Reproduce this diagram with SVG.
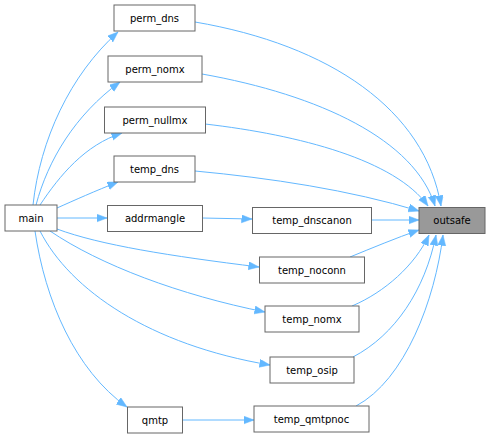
<svg xmlns="http://www.w3.org/2000/svg" width="490" height="439" viewBox="0 0 490 439">
<style>
.node rect{fill:#ffffff;stroke:#666666;stroke-width:1}
.node.hl rect{fill:#999999}
.node text{font-family:"DejaVu Sans","Liberation Sans",sans-serif;font-size:10px;fill:#000000;text-anchor:middle}
.edge{fill:none;stroke:#63b8ff;stroke-width:1;marker-end:url(#arr)}
</style>
<defs>
<marker id="arr" markerUnits="userSpaceOnUse" markerWidth="12" markerHeight="9" refX="10.5" refY="4" orient="auto">
<path d="M0,0 L10.5,4 L0,8 z" fill="#63b8ff" stroke="#63b8ff" stroke-width="0.5"/>
</marker>
</defs>
<rect width="490" height="439" fill="#ffffff"/>
<g id="connectors">
<path class="edge" d="M195,22 C330,45 425,110 441,206"/>
<path class="edge" d="M202,74 C320,95 415,140 435,206"/>
<path class="edge" d="M205,124 C300,135 395,160 428,206"/>
<path class="edge" d="M195,171 C270,178 350,190 419,211"/>
<path class="edge" d="M372,220 L419,220"/>
<path class="edge" d="M350,257 C372,248 396,238 419,230"/>
<path class="edge" d="M352,306 C385,292 415,265 429,235"/>
<path class="edge" d="M353,357 C395,335 425,290 436,235"/>
<path class="edge" d="M356,406 C405,380 435,300 443,235"/>
<path class="edge" d="M202,218 L252,219"/>
<path class="edge" d="M182,420 L254,420"/>
<path class="edge" d="M33,205 C40,140 70,75 118,32"/>
<path class="edge" d="M36,205 C48,160 75,115 120,82"/>
<path class="edge" d="M40,205 C60,175 85,145 122,133"/>
<path class="edge" d="M57,208 C75,200 95,191 118,182"/>
<path class="edge" d="M57,218 L107,218"/>
<path class="edge" d="M57,229 C100,245 170,256 259,267"/>
<path class="edge" d="M50,231 C100,265 180,295 265,312"/>
<path class="edge" d="M40,231 C70,290 150,345 270,365"/>
<path class="edge" d="M35,231 C45,300 75,370 127,407"/>
</g>
<g id="node-main" class="node"><rect x="5" y="205" width="52" height="26"/><text x="31" y="221.5">main</text></g>
<g id="node-perm_dns" class="node"><rect x="114" y="5" width="81" height="26"/><text x="154.5" y="21.5">perm_dns</text></g>
<g id="node-perm_nomx" class="node"><rect x="108" y="56" width="94" height="26"/><text x="155" y="72.5">perm_nomx</text></g>
<g id="node-perm_nullmx" class="node"><rect x="104.5" y="107" width="101" height="26"/><text x="155" y="123.5">perm_nullmx</text></g>
<g id="node-temp_dns" class="node"><rect x="114" y="156" width="81" height="26"/><text x="154.5" y="172.5">temp_dns</text></g>
<g id="node-addrmangle" class="node"><rect x="107.5" y="205.5" width="95" height="26"/><text x="155" y="222">addrmangle</text></g>
<g id="node-temp_dnscanon" class="node"><rect x="252.5" y="207.5" width="119" height="26"/><text x="312" y="224">temp_dnscanon</text></g>
<g id="node-outsafe" class="node hl"><rect x="419" y="207.5" width="66" height="26"/><text x="452" y="224">outsafe</text></g>
<g id="node-temp_noconn" class="node"><rect x="259.5" y="257" width="105" height="26"/><text x="312" y="273.5">temp_noconn</text></g>
<g id="node-temp_nomx" class="node"><rect x="265" y="306" width="94" height="26"/><text x="312" y="322.5">temp_nomx</text></g>
<g id="node-temp_osip" class="node"><rect x="270" y="357" width="84" height="26"/><text x="312" y="373.5">temp_osip</text></g>
<g id="node-temp_qmtpnoc" class="node"><rect x="254" y="406" width="115" height="26"/><text x="311.5" y="422.5">temp_qmtpnoc</text></g>
<g id="node-qmtp" class="node"><rect x="127.5" y="407" width="55" height="26"/><text x="155" y="423.5">qmtp</text></g>
</svg>
